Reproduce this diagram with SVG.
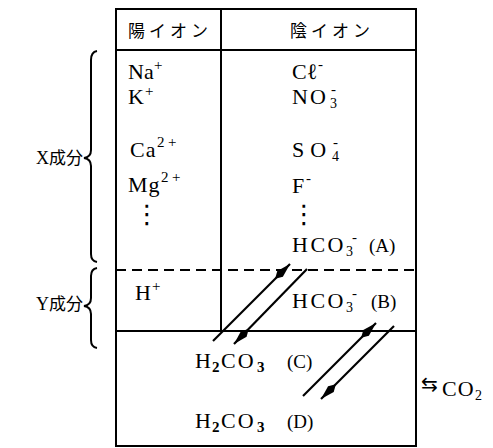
<svg xmlns="http://www.w3.org/2000/svg" width="493" height="448" viewBox="0 0 493 448">
<style>
.ln{stroke:#000;stroke-width:2;fill:none}
.t{font-family:"Liberation Serif","Noto Sans CJK JP",serif;font-size:22px;fill:#000;letter-spacing:2px}
.sub{font-size:14px;letter-spacing:0}
.sb{font-size:15px;font-weight:bold;letter-spacing:0}
.sup{font-size:15px;letter-spacing:0}
.par{font-size:19px;letter-spacing:0}
.jp{font-family:"Noto Sans CJK JP",sans-serif;font-size:17px;fill:#000;letter-spacing:4px}
.lab{font-family:"Noto Sans CJK JP",sans-serif;font-size:17px;fill:#000}
.ser{font-family:"Liberation Serif",serif;font-size:18px}
.dots{font-family:"DejaVu Sans",sans-serif;font-size:26px;fill:#000}
.arr{stroke:#000;stroke-width:2.2;fill:none;marker-end:url(#ah)}
</style>
<defs>
<marker id="ah" markerUnits="userSpaceOnUse" markerWidth="22" markerHeight="10" viewBox="0 0 22 10" refX="21" refY="5" orient="auto">
<path d="M21,5 L7,1 L0,5 L7,9 Z" fill="#000"/>
</marker>
</defs>
<g id="frame">
<rect class="ln" x="116" y="9" width="300" height="437"/>
<line class="ln" x1="116" y1="50" x2="416" y2="50"/>
<line class="ln" x1="221" y1="9" x2="221" y2="331"/>
<line class="ln" x1="116" y1="270" x2="416" y2="270" stroke-dasharray="10 6"/>
<line class="ln" x1="116" y1="331" x2="416" y2="331"/>
</g>
<g id="hdr-cation"><text class="jp" x="128" y="37">陽イオン</text></g>
<g id="hdr-anion"><text class="jp" x="290" y="37">陰イオン</text></g>
<g id="label-X">
<path class="ln" d="M97,51 Q91,52 91,60 L91,150 Q91,157 84,158 Q91,159 91,166 L91,254 Q91,261 97,262"/>
<text class="lab" x="36" y="164"><tspan class="ser">X</tspan>成分</text>
</g>
<g id="label-Y">
<path class="ln" d="M97,268 Q91,269 91,276 L91,298 Q91,305 84,306 Q91,307 91,314 L91,340 Q91,347 97,348"/>
<text class="lab" x="36" y="310"><tspan class="ser">Y</tspan>成分</text>
</g>
<g id="cations-x">
<text class="t" x="128" y="79" style="letter-spacing:0">Na<tspan class="sup" x="154" dy="-9">+</tspan></text>
<text class="t" x="128" y="104">K<tspan class="sup" x="145" dy="-8">+</tspan></text>
<text class="t" x="130" y="157" style="letter-spacing:1px">Ca<tspan class="sup" x="157" dy="-10">2</tspan><tspan class="sup" x="168">+</tspan></text>
<text class="t" x="128" y="192" style="letter-spacing:1px">Mg<tspan class="sup" x="161" dy="-10">2</tspan><tspan class="sup" x="172">+</tspan></text>
<text class="dots" x="134" y="223">⋮</text>
</g>
<g id="anions-x">
<text class="t" x="292" y="79" style="letter-spacing:0">Cℓ<tspan class="sup" x="318" dy="-10">-</tspan></text>
<text class="t" x="292" y="104">NO<tspan class="sub" x="330" dy="4">3</tspan><tspan class="sup" x="331" dy="-14">-</tspan></text>
<text class="t" x="292" y="157" style="letter-spacing:6px">SO<tspan class="sub" x="332" dy="4">4</tspan><tspan class="sup" x="333" dy="-14">-</tspan></text>
<text class="t" x="292" y="193">F<tspan class="sup" x="306" dy="-10">-</tspan></text>
<text class="dots" x="291" y="223">⋮</text>
<text class="t" x="292" y="252" style="letter-spacing:2.5px">HCO<tspan class="sub" x="346" dy="4">3</tspan><tspan class="sup" x="352" dy="-14">-</tspan><tspan class="par" x="369" dy="10">(A)</tspan></text>
</g>
<g id="cation-y"><text class="t" x="135" y="300">H<tspan class="sup" x="152" dy="-9">+</tspan></text></g>
<g id="anion-y"><text class="t" x="292" y="308" style="letter-spacing:2.5px">HCO<tspan class="sub" x="346" dy="4">3</tspan><tspan class="sup" x="352" dy="-14">-</tspan><tspan class="par" x="371" dy="10">(B)</tspan></text></g>
<g id="node-C"><text class="t" x="195" y="368">H<tspan class="sb" x="212" dy="4">2</tspan><tspan x="221" dy="-4">CO</tspan><tspan class="sb" x="257" dy="4">3</tspan><tspan class="par" x="287" dy="-4">(C)</tspan></text></g>
<g id="node-D"><text class="t" x="195" y="428">H<tspan class="sb" x="212" dy="4">2</tspan><tspan x="221" dy="-4">CO</tspan><tspan class="sb" x="257" dy="4">3</tspan><tspan class="par" x="287" dy="-4">(D)</tspan></text></g>
<g id="co2">
<text x="421" y="391" style="font-family:'DejaVu Sans',sans-serif;font-size:20px;fill:#000">⇆</text>
<text class="t" x="442" y="396" style="letter-spacing:1px">CO<tspan class="sub" x="475" dy="4">2</tspan></text>
</g>
<g id="connectors">
<line class="arr" x1="213" y1="341" x2="290" y2="264"/>
<line class="arr" x1="307" y1="269" x2="234" y2="344"/>
<line class="arr" x1="303" y1="396" x2="376" y2="323"/>
<line class="arr" x1="394" y1="326" x2="321" y2="399"/>
</g>
</svg>
